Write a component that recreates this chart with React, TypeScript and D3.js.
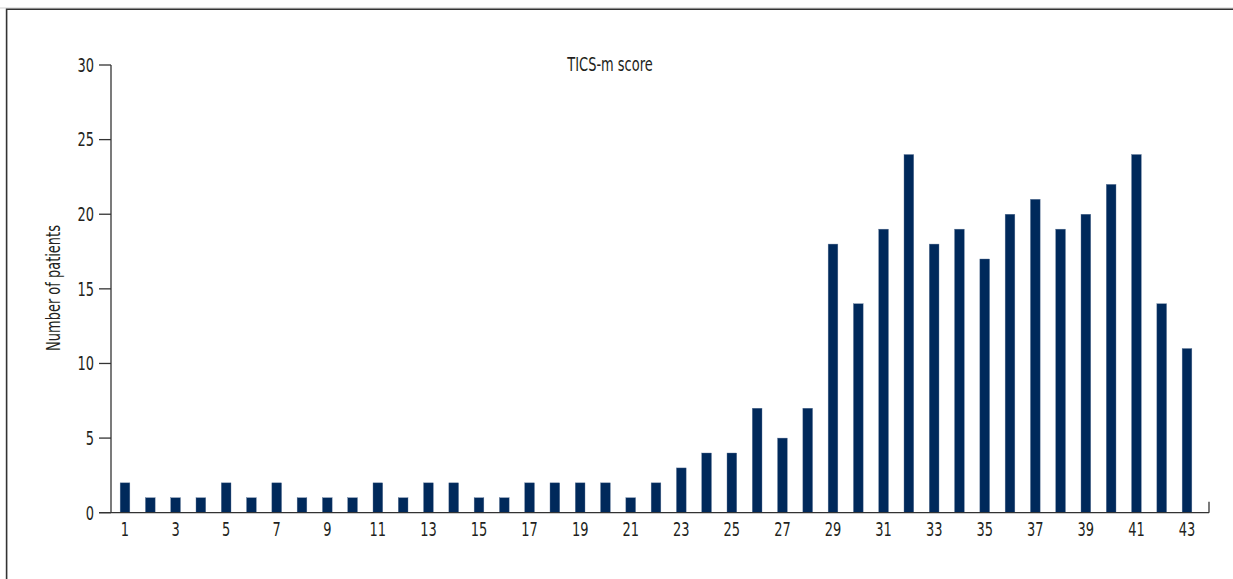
import * as d3 from 'd3';

// TICS-m score histogram: number of patients per score
const scores = d3.range(1, 44);
const patients = [
  2, 1, 1, 1, 2, 1, 2, 1, 1, 1, 2, 1, 2, 2, 1, 1, 2, 2, 2, 2, 1, 2,
  3, 4, 4, 7, 5, 7, 18, 14, 19, 24, 18, 19, 17, 20, 21, 19, 20, 22, 24, 14, 11,
];
const yTicks = [0, 5, 10, 15, 20, 25, 30];
const xTickLabels = scores.filter((s) => s % 2 === 1);

const W = 1233;
const H = 579;
const FONT = "'DejaVu Sans Condensed', 'Liberation Sans', sans-serif";
const INK = '#231f20';
const BAR = '#00295b';
const SQUEEZE = 0.76; // the original uses a condensed face

// condensed text: squeeze horizontally around the anchor point
function T({ x, y, anchor = 'middle', rotate = 0, size = 19, children }: any) {
  return (
    <text
      transform={`translate(${x},${y}) rotate(${rotate}) scale(${SQUEEZE},1)`}
      textAnchor={anchor}
      fontSize={size}
      fill={INK}
    >
      {children}
    </text>
  );
}

export default function App() {
  const x = d3.scaleLinear().domain([1, 43]).range([125, 1187]);
  const y = d3.scaleLinear().domain([0, 30]).range([512.7, 65]);
  const barW = 9.7;
  const axisLeft = 111;
  const axisRight = 1209;

  return (
    <svg
      width={W}
      height={H}
      style={{ position: 'absolute', left: 0, top: 0, background: '#fff' }}
      fontFamily={FONT}
    >
      {/* frame */}
      <line x1={0} x2={W} y1={8} y2={8} stroke="#cfcfcf" strokeWidth={1} />
      <path d={`M6.6,${H} V9.3 H${W}`} fill="none" stroke="#333" strokeWidth={1.6} />

      <T x={610} y={71}>TICS-m score</T>
      <T x={60} y={288} rotate={-90}>Number of patients</T>

      {/* bars */}
      {scores.map((s, i) => (
        <rect
          key={s}
          x={x(s) - barW / 2}
          y={y(patients[i])}
          width={barW}
          height={y(0) - y(patients[i])}
          fill={BAR}
          stroke="#5b7396"
          strokeWidth={0.4}
        />
      ))}

      {/* y axis */}
      <line x1={axisLeft} x2={axisLeft} y1={y(30)} y2={y(0)} stroke="#333" strokeWidth={1.3} />
      {yTicks.map((t) => (
        <g key={t}>
          <line x1={axisLeft - 12} x2={axisLeft} y1={y(t)} y2={y(t)} stroke="#333" strokeWidth={1.3} />
          <T x={94} y={y(t) + 6.8} anchor="end">{t}</T>
        </g>
      ))}

      {/* x axis */}
      <line x1={axisLeft - 12} x2={axisRight} y1={y(0)} y2={y(0)} stroke="#333" strokeWidth={1.3} />
      <line x1={axisRight} x2={axisRight} y1={y(0) - 11} y2={y(0)} stroke="#333" strokeWidth={1.3} />
      {xTickLabels.map((s) => (
        <T key={s} x={x(s)} y={535.5}>{s}</T>
      ))}
    </svg>
  );
}
